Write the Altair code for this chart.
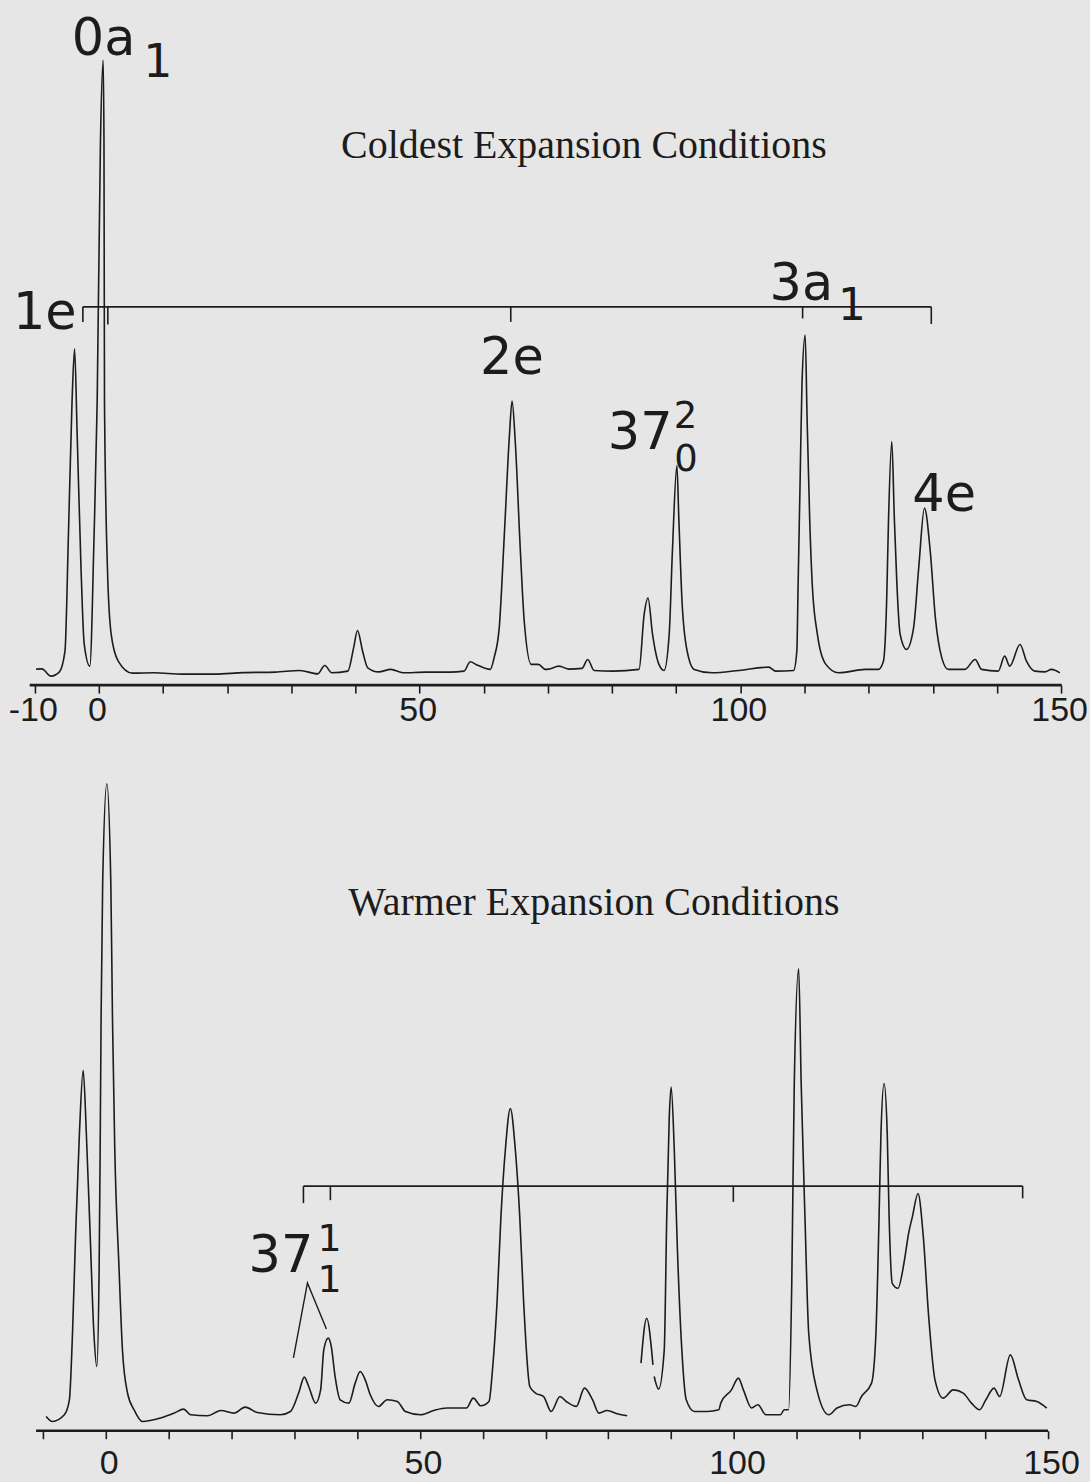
import altair as alt
import pandas as pd

INK = "#1c1c1c"
BG = "#e6e6e6"

# ---------------- Coldest expansion spectrum (wavenumber, intensity) ----------------
top_x = [-9.8, -8.9, -7.5, -6.2, -5.3, -4.76, -4.2, -3.8, -3.4, -2.8, -2.3, -1.43, -0.76, -0.28,
         0.23, 0.65, 0.78, 0.86, 1.32, 1.9, 3.0, 5.2, 8.6, 13.0, 18.0, 22.5, 27.5, 31.3, 34.1,
         35.2, 36.3, 38.8, 39.7, 40.3, 41.1, 41.9, 43.6, 45.5, 47.4, 51.0, 54.7, 56.9, 57.9,
         58.8, 61.0, 61.6, 62.4, 63.2, 64.0, 64.4, 64.9, 65.7, 66.3, 67.4, 68.5, 69.6, 70.1,
         71.7, 73.3, 75.3, 76.2, 77.2, 80.1, 84.2, 85.0, 85.6, 86.3, 87.3, 88.1, 88.9, 89.4,
         90.1, 90.4, 90.9, 91.7, 92.8, 95.6, 99.8, 104.4, 105.5, 108.3, 108.8, 109.0, 109.3,
         109.6, 110.1, 110.4, 110.8, 111.2, 112.0, 113.3, 115.3, 119.5, 121.5, 122.3, 122.8,
         123.1, 123.6, 124.0, 124.4, 124.9, 125.9, 127.0, 127.8, 128.7, 129.6, 130.4, 131.4,
         132.4, 135.0, 136.6, 137.6, 140.2, 141.2, 142.0, 143.6, 144.6, 145.9, 147.5, 148.5, 149.8]
top_y = [2.34, 2.38, 1.32, 1.90, 4.97, 22.08, 41.52, 49.27, 36.70, 17.11, 5.99, 2.78, 22.08, 41.52,
         79.53, 91.52, 79.53, 41.52, 17.11, 7.46, 3.51, 1.75, 1.80, 1.61, 1.61, 1.83, 1.90, 2.15, 1.65,
         2.88, 1.80, 2.05, 5.45, 8.0, 4.97, 2.53, 1.94, 2.30, 1.80, 1.90, 1.90, 2.05, 3.41,
         3.03, 2.30, 3.99, 8.38, 22.08, 36.70, 41.62, 35.67, 19.59, 9.36, 3.03, 3.03, 2.30, 2.34,
         2.78, 2.34, 2.45, 3.76, 2.15, 2.05, 2.30, 10.38, 12.76, 7.46, 3.03, 2.15, 7.46, 19.59,
         32.16, 24.46, 12.28, 4.97, 2.30, 1.80, 2.15, 2.63, 2.05, 2.15, 4.97, 14.77, 29.39,
         44.01, 51.27, 39.08, 24.46, 14.77, 7.46, 3.07, 1.80, 2.30, 2.30, 3.51, 12.28,
         24.46, 35.67, 24.46, 14.77, 7.46, 5.22, 8.38, 17.15, 25.92, 19.59, 9.84, 3.99,
         2.30, 2.30, 3.76, 2.30, 2.05, 4.24, 2.78, 5.95, 3.51, 2.05, 1.94, 2.30, 1.80]

# ---------------- Warmer expansion spectrum: three traced pieces ----------------
bot_a_x = [-9.5, -8.5, -6.6, -5.8, -5.3, -4.8, -4.2, -3.6, -3.1, -2.5, -1.9, -1.43, -1.06, -0.9,
           -0.75, -0.5, 0.16, 0.8, 1.06, 1.43, 2.1, 2.65, 3.45, 4.5, 5.8, 8.7, 10.9, 12.4, 13.5,
           16.2, 18.3, 20.4, 22.2, 24.1, 27.8, 29.4, 30.7, 31.6, 32.3, 33.4, 34.2, 34.7, 35.4,
           35.9, 36.5, 37.3, 38.7, 39.7, 40.5, 41.3, 42.1, 43.4, 44.8, 46.4, 47.7, 50.1, 52.2,
           54.3, 57.4, 58.5, 59.7, 61.0, 61.6, 62.3, 62.9, 63.6, 64.4, 65.2, 65.9, 66.5, 67.5,
           68.4, 69.7, 70.9, 72.3, 73.3, 74.9, 76.2, 77.5, 78.5, 79.8, 81.4, 83.0]
bot_a_y = [2.07, 1.35, 2.32, 4.49, 14.18, 28.65, 43.13, 52.24, 43.13, 28.65, 14.18, 9.31, 23.78, 40.7,
           59.9, 79.3, 93.8, 79.3, 59.9, 40.7, 23.7, 11.7, 5.5, 3.04, 1.35, 1.84, 2.56, 3.14, 2.32,
           2.17, 2.94, 2.56, 3.43, 2.65, 2.32, 2.79, 5.46, 7.77, 6.41, 4.01, 5.93, 11.72, 13.42,
           12.2, 7.86, 4.49, 4.01, 6.90, 8.58, 7.38, 5.21, 3.52, 4.49, 4.24, 2.79, 2.32, 2.94,
           3.29, 3.29, 4.73, 3.62, 4.24, 9.31, 18.96, 31.01, 40.67, 46.7, 40.67, 31.01, 18.96, 6.41,
           5.46, 4.96, 2.79, 4.96, 4.24, 3.52, 6.18, 4.49, 2.56, 2.94, 2.46, 2.17]
bot_b_x = [85.2, 86.1, 87.1]
bot_b_y = [9.80, 16.31, 9.55]
bot_c_x = [87.3, 88.0, 88.9, 89.3, 89.7, 90.0, 90.5, 91.0, 91.7, 92.4, 93.7, 95.7, 97.6, 97.9,
           99.6, 100.7, 101.5, 102.8, 103.8, 105.1, 107.4, 108.0, 108.7, 109.2, 109.6, 110.3,
           110.7, 111.3, 111.9, 113.2, 115.1, 116.4, 118.4, 119.4, 120.3, 121.9, 122.6, 123.1,
           123.4, 123.9, 124.4, 124.7, 125.2, 126.1, 127.1, 127.8, 128.4, 129.3, 130.1, 131.0,
           132.0, 133.3, 134.9, 136.5, 137.8, 139.1, 140.1, 141.4, 142.3, 144.0, 145.3, 146.6,
           148.2, 149.8]
bot_c_y = [7.86, 6.03, 11.72, 31.01, 45.49, 49.83, 40.67, 26.19, 11.72, 4.49, 2.79, 2.79, 3.04, 4.01,
           5.93, 7.63, 5.93, 3.29, 3.76, 2.32, 2.32, 3.04, 3.04, 21.37, 50.32, 66.96,
           50.32, 31.01, 14.14, 5.93, 2.32, 3.29, 3.76, 3.52, 4.96, 6.90, 14.14, 31.01,
           43.08, 50.32, 43.08, 31.01, 21.37, 20.65, 24.5, 28.61, 31.01, 34.4, 28.61, 16.54,
           7.38, 4.73, 5.93, 5.46, 4.01, 3.04, 4.49, 6.18, 4.96, 11.0, 7.38, 4.49,
           4.24, 3.29]

# ---------------- annotations ----------------
top_label_text = ["0a", "1", "1e", "2e", "37", "2", "0", "3a", "1", "4e"]
top_label_x = [-4.23, 6.9, -13.41, 59.42, 79.34, 89.6, 89.7, 104.55, 115.2, 126.8]
top_label_y = [92.25, 89.04, 52.19, 45.61, 34.65, 37.6, 31.4, 56.43, 53.51, 25.44]
top_label_size = [51, 46, 51, 51, 51, 37, 37, 51, 44, 51]

bot_label_text = ["37", "1", "1"]
bot_label_x = [22.72, 33.7, 33.7]
bot_label_y = [23.01, 26.05, 20.1]
bot_label_size = [51, 38, 38]

top_title = "Coldest Expansion Conditions"
top_title_pos = [75.6, 77.19]
bot_title = "Warmer Expansion Conditions"
bot_title_pos = [77.7, 74.82]

# progression combs
top_comb_x = [-2.51, 1.38, 64.2, 109.7, 129.76]
top_comb_level = 55.4
top_comb_end = [53.2, 52.8, 53.2, 53.7, 52.9]
bot_comb_x = [31.46, 35.75, 99.9, 145.96]
bot_comb_level = 35.46
bot_comb_end = [33.0, 33.43, 33.18, 33.7]

caret_x = [29.87, 32.1, 35.12]
caret_y = [10.56, 21.42, 14.76]

top_axis_span = [-10.8, 150.1]
bot_axis_span = [-11.1, 150.0]
tick_values = list(range(-10, 151, 10))

# ---------------- tables ----------------
top_line = pd.DataFrame({"x": top_x, "y": top_y, "seg": "a"})
bot_line = pd.concat([
    pd.DataFrame({"x": bot_a_x, "y": bot_a_y, "seg": "a"}),
    pd.DataFrame({"x": bot_b_x, "y": bot_b_y, "seg": "b"}),
    pd.DataFrame({"x": bot_c_x, "y": bot_c_y, "seg": "c"}),
], ignore_index=True)


def comb_df(xs, level, ends):
    rows = [{"x": xs[0], "x2": xs[-1], "y": level, "y2": level}]
    for xv, e in zip(xs, ends):
        rows.append({"x": xv, "x2": xv, "y": level, "y2": e})
    return pd.DataFrame(rows)


def axis_df(span):
    return pd.DataFrame([{"x": span[0], "x2": span[1], "y": 0.0, "y2": 0.0}])


top_labels = pd.DataFrame({"x": top_label_x, "y": top_label_y, "t": top_label_text, "fs": top_label_size})
bot_labels = pd.DataFrame({"x": bot_label_x, "y": bot_label_y, "t": bot_label_text, "fs": bot_label_size})
top_title_df = pd.DataFrame([{"x": top_title_pos[0], "y": top_title_pos[1], "t": top_title}])
bot_title_df = pd.DataFrame([{"x": bot_title_pos[0], "y": bot_title_pos[1], "t": bot_title}])
caret_df = pd.DataFrame({"x": caret_x, "y": caret_y})

XS_TOP = alt.Scale(domain=[-15.275, 154.35], nice=False, zero=False)
XS_BOT = alt.Scale(domain=[-16.685, 156.52], nice=False, zero=False)
YS = alt.Scale(domain=[0, 100], nice=False, zero=False)


def make_axis(label_expr, pad, offset):
    return alt.Axis(values=tick_values, labelExpr=label_expr, domain=False, grid=False,
                    ticks=True, tickSize=8, tickWidth=1.6, tickColor=INK,
                    labelFont="Liberation Sans", labelFontSize=34, labelColor=INK,
                    labelPadding=pad, labelFlush=False, labelOverlap=False,
                    labelOffset=offset, title=None)


AX_TOP = make_axis("datum.value == -10 ? '-10' : (datum.value % 50 == 0 ? datum.label : '')", 0, -2)
AX_BOT = make_axis("datum.value % 50 == 0 && datum.value >= 0 ? datum.label : ''", 8, 3)


def panel(xs, ax, line_df, comb, axdf, labels, title_df, h, extra_line=None):
    def X(f):
        return alt.X(f, type="quantitative", scale=xs, axis=ax)

    def Y(f):
        return alt.Y(f, type="quantitative", scale=YS, axis=None)

    layers = [
        alt.Chart(line_df).mark_line(color=INK, strokeWidth=1.6, interpolate="monotone").encode(
            x=X("x"), y=Y("y"), detail="seg:N"),
        alt.Chart(axdf).mark_rule(color=INK, strokeWidth=2.6).encode(
            x=X("x"), x2="x2", y=Y("y"), y2="y2"),
        alt.Chart(comb).mark_rule(color=INK, strokeWidth=1.6).encode(
            x=X("x"), x2="x2", y=Y("y"), y2="y2"),
        alt.Chart(labels).mark_text(align="left", baseline="alphabetic", font="DejaVu Sans",
                                    color=INK).encode(
            x=X("x"), y=Y("y"), text="t:N", size=alt.Size("fs:Q", scale=None)),
        alt.Chart(title_df).mark_text(align="center", baseline="alphabetic",
                                      font="Liberation Serif", fontSize=40, color=INK).encode(
            x=X("x"), y=Y("y"), text="t:N"),
    ]
    if extra_line is not None:
        layers.append(alt.Chart(extra_line).mark_line(color=INK, strokeWidth=1.4).encode(
            x=X("x"), y=Y("y")))
    return alt.layer(*layers).properties(width=1090, height=h)


top = panel(XS_TOP, AX_TOP, top_line, comb_df(top_comb_x, top_comb_level, top_comb_end),
            axis_df(top_axis_span), top_labels, top_title_df, 684)
bottom = panel(XS_BOT, AX_BOT, bot_line, comb_df(bot_comb_x, bot_comb_level, bot_comb_end),
               axis_df(bot_axis_span), bot_labels, bot_title_df, 691, extra_line=caret_df)

chart = alt.vconcat(top, bottom, spacing=56, bounds="flush").properties(
    padding=0, background=BG
).configure_view(stroke="transparent")

chart.save("out.html", embed_options={"renderer": "svg", "actions": False})
